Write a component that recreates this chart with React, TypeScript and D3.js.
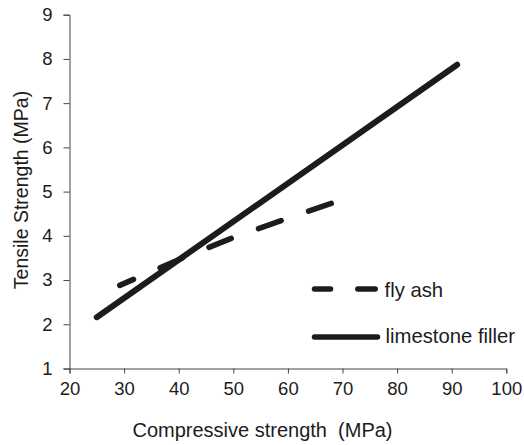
import React, { useEffect, useRef } from "react";
import * as d3 from "d3";

const xTicks = [20, 30, 40, 50, 60, 70, 80, 90, 100];
const yTicks = [1, 2, 3, 4, 5, 6, 7, 8, 9];

// limestone filler (solid) — linear relation
const limestoneX = [25, 91];
const limestoneY = [2.16, 7.87];

// fly ash (dashed) — read points along the curve
const flyAshX = [29.2, 41.5, 50.6, 59.8, 68.8];
const flyAshY = [2.88, 3.54, 3.99, 4.39, 4.77];

const seriesNames = ["fly ash", "limestone filler"];
const xTitle = "Compressive strength  (MPa)";
const yTitle = "Tensile Strength (MPa)";

const W = 524;
const H = 445;
const FONT = "'Liberation Sans', Arial, Helvetica, sans-serif";
const INK = "#1c1c1c";
const AXIS = "#444";

export default function App() {
  const gx = useRef<SVGGElement>(null);
  const gy = useRef<SVGGElement>(null);

  const x = d3.scaleLinear().domain([20, 100]).range([69.5, 506.3]);
  const y = d3.scaleLinear().domain([1, 9]).range([368.5, 14.7]);

  useEffect(() => {
    if (gx.current) {
      const ax = d3.axisBottom(x).tickValues(xTicks).tickSize(5).tickPadding(8).tickSizeOuter(5);
      const s = d3.select(gx.current);
      s.call(ax as any);
      s.select(".domain").attr("stroke", AXIS).attr("stroke-width", 1);
      s.selectAll(".tick line").attr("stroke", AXIS);
      s.selectAll(".tick text")
        .attr("font-family", FONT)
        .attr("font-size", 18.5)
        .attr("fill", INK)
        .attr("dy", "0.71em");
    }
    if (gy.current) {
      const ay = d3.axisLeft(y).tickValues(yTicks).tickSize(6).tickPadding(11).tickSizeOuter(6);
      const s = d3.select(gy.current);
      s.call(ay as any);
      s.select(".domain").attr("stroke", AXIS).attr("stroke-width", 1);
      s.selectAll(".tick line").attr("stroke", AXIS);
      s.selectAll(".tick text")
        .attr("font-family", FONT)
        .attr("font-size", 18.5)
        .attr("fill", INK);
    }
  }, []);

  const line = d3
    .line<[number, number]>()
    .x((d) => x(d[0]))
    .y((d) => y(d[1]));

  const limestone = line(limestoneX.map((v, i) => [v, limestoneY[i]] as [number, number])) || "";
  const flyAsh = line(flyAshX.map((v, i) => [v, flyAshY[i]] as [number, number])) || "";

  return (
    <svg
      width={W}
      height={H}
      viewBox={`0 0 ${W} ${H}`}
      style={{ position: "absolute", left: 0, top: 0, background: "#fff" }}
    >
      <rect x={0} y={0} width={W} height={H} fill="#fff" />
      <g ref={gx} transform={`translate(0,${y(1)})`} />
      <g ref={gy} transform={`translate(${x(20)},0)`} />

      <path
        d={flyAsh}
        fill="none"
        stroke={INK}
        strokeWidth={5.5}
        strokeLinecap="round"
        strokeDasharray="24 29"
        strokeDashoffset={9}
      />
      <path d={limestone} fill="none" stroke={INK} strokeWidth={6} strokeLinecap="round" />

      {/* legend */}
      <line x1={314.5} x2={330.5} y1={289} y2={289} stroke={INK} strokeWidth={5.5} strokeLinecap="round" />
      <line x1={357.8} x2={375.2} y1={289} y2={289} stroke={INK} strokeWidth={5.5} strokeLinecap="round" />
      <text x={384.5} y={296.5} fontFamily={FONT} fontSize={20.3} fill={INK}>
        {seriesNames[0]}
      </text>
      <line x1={314.5} x2={377.5} y1={337} y2={337} stroke={INK} strokeWidth={5.5} strokeLinecap="round" />
      <text x={385.5} y={343.3} fontFamily={FONT} fontSize={20.3} fill={INK}>
        {seriesNames[1]}
      </text>

      <text
        x={262.5}
        y={437}
        textAnchor="middle"
        fontFamily={FONT}
        fontSize={20}
        fill={INK}
        style={{ whiteSpace: "pre" }}
      >
        {xTitle}
      </text>
      <text
        transform={`translate(27.5,190) rotate(-90)`}
        textAnchor="middle"
        fontFamily={FONT}
        fontSize={19.5}
        fill={INK}
      >
        {yTitle}
      </text>
    </svg>
  );
}
